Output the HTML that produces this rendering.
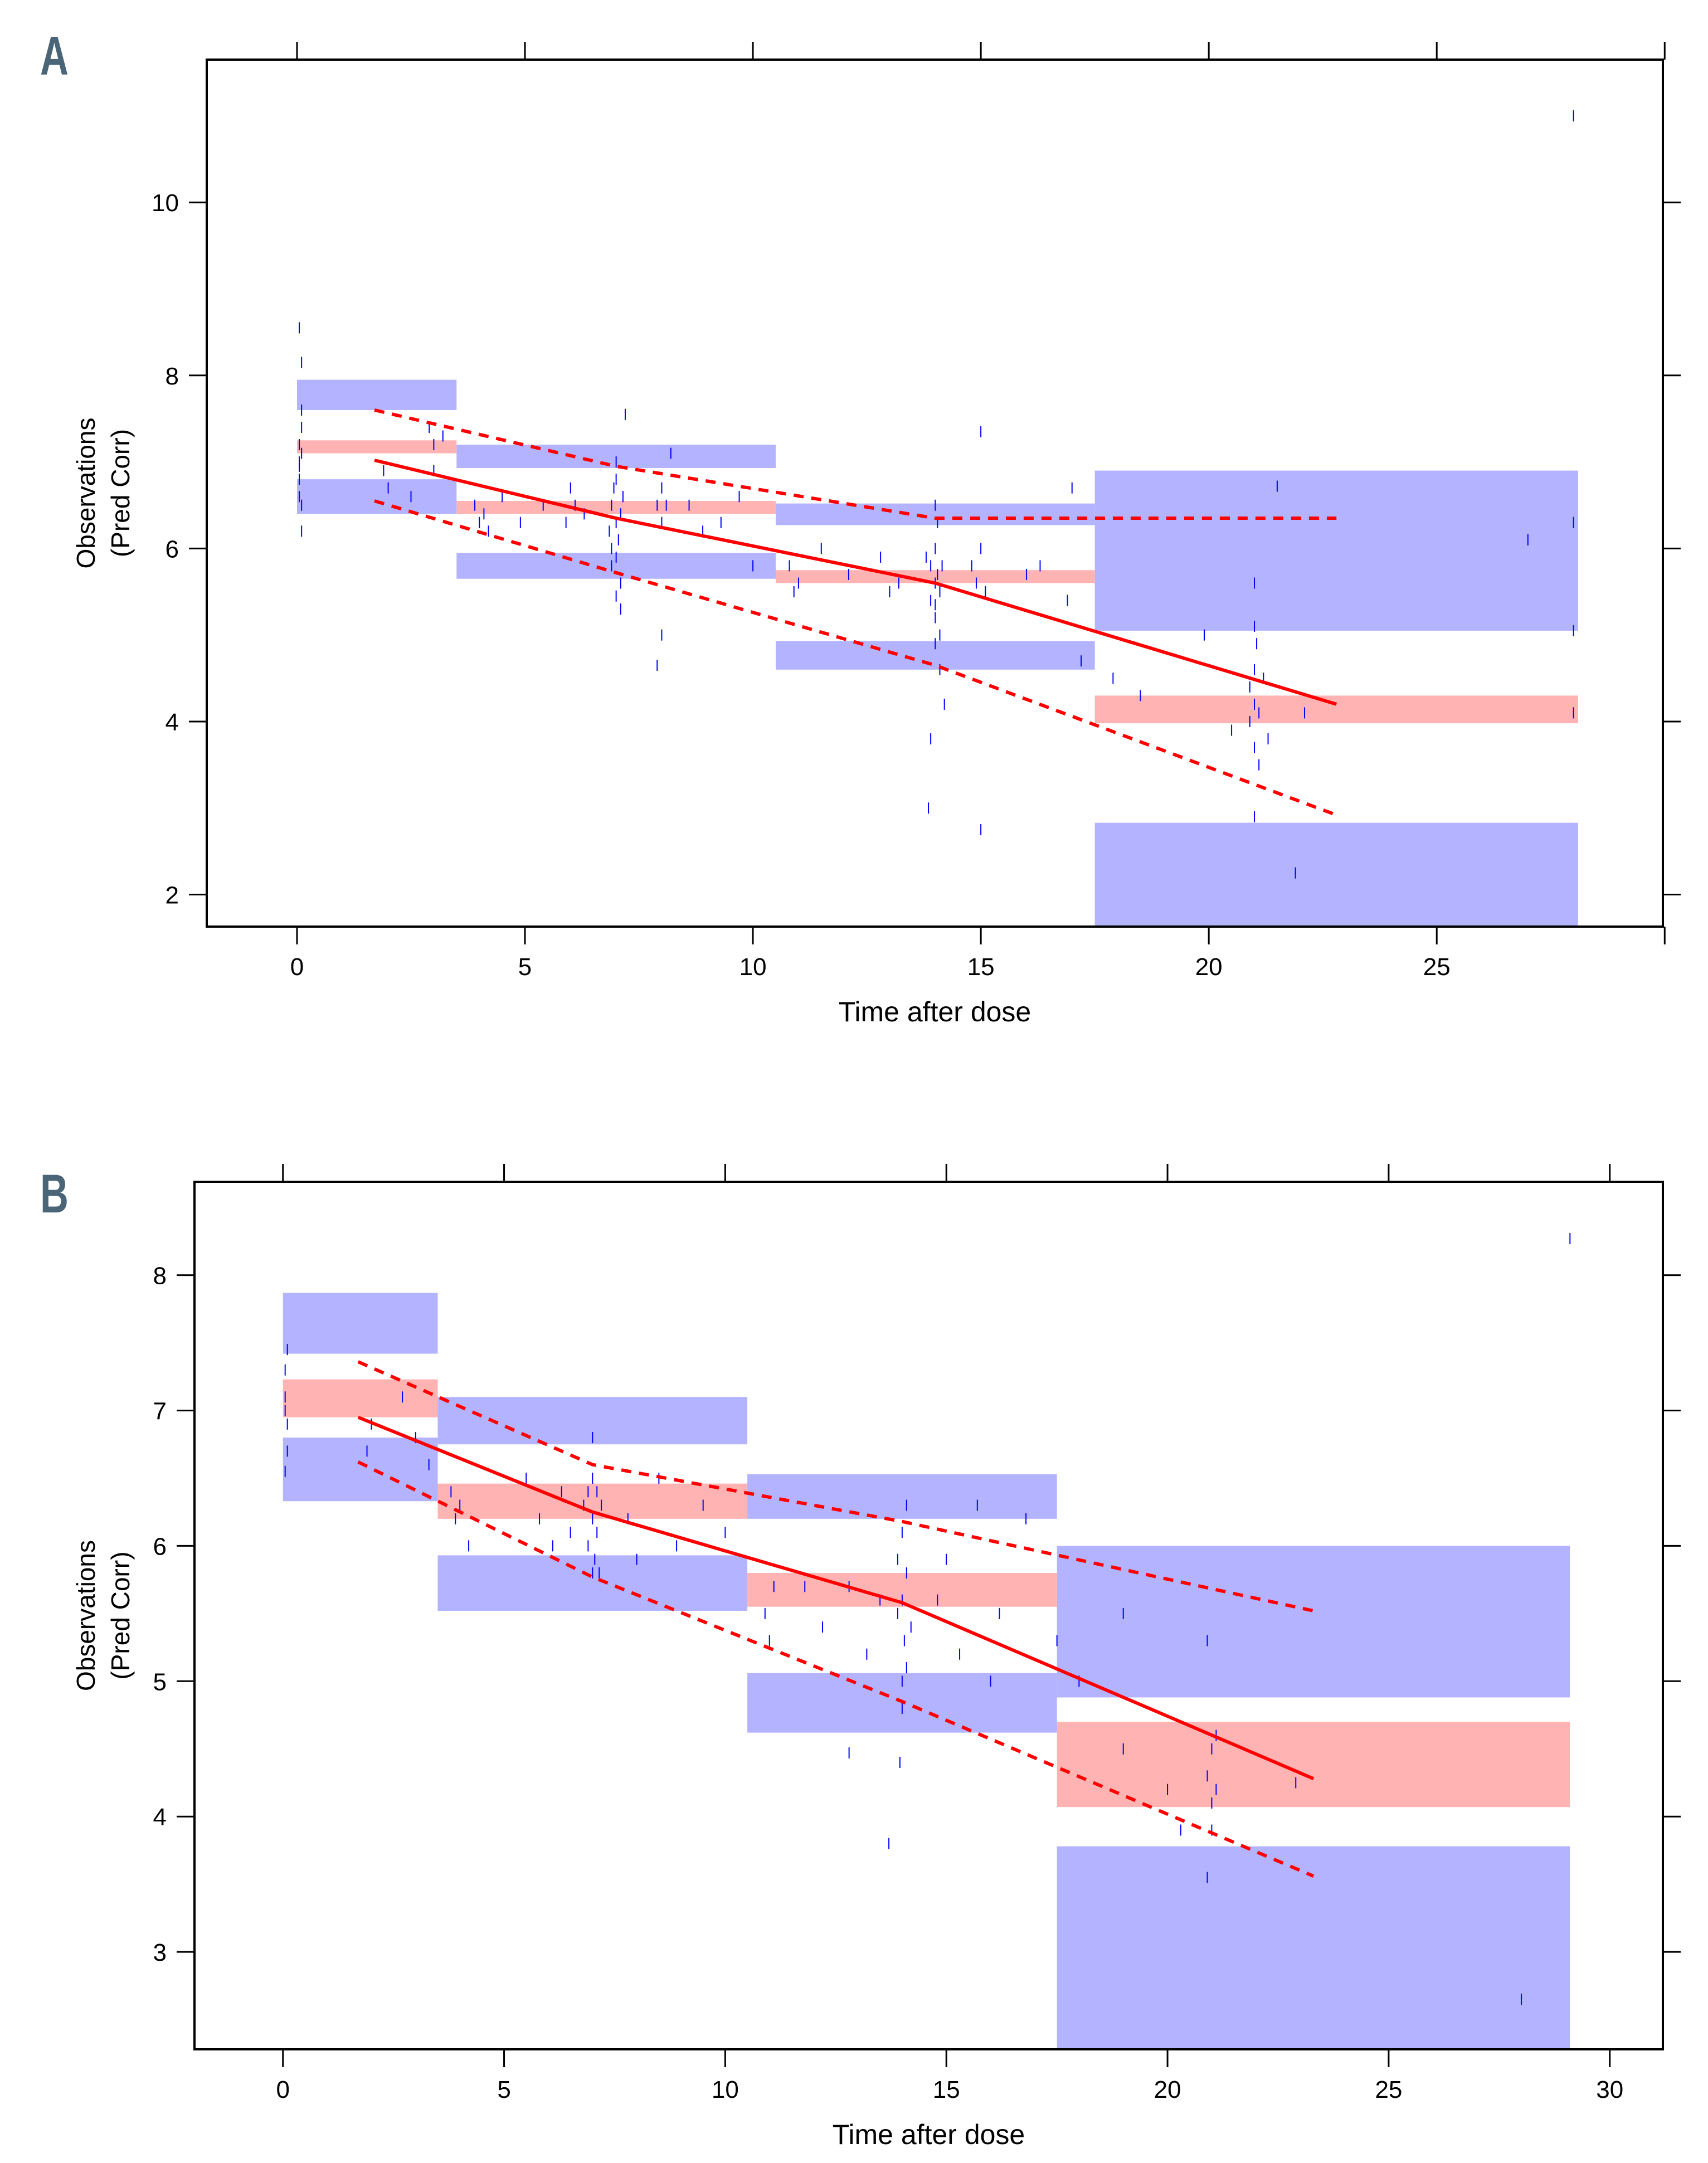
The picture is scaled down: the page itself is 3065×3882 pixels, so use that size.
<!DOCTYPE html>
<html><head><meta charset="utf-8"><style>
html,body{margin:0;padding:0;background:#fff;}
svg{display:block;}
text{font-family:"Liberation Sans Narrow","Liberation Sans",sans-serif;fill:#000;}
</style></head><body>
<svg id="fig" width="3065" height="3882" viewBox="0 0 3065 3882" xmlns="http://www.w3.org/2000/svg">
<text transform="translate(72,134) scale(0.72,1)" style="font-family:'Liberation Sans',sans-serif;font-weight:bold;font-size:98px;fill:#4a6478">A</text>
<text transform="translate(72,2176) scale(0.72,1)" style="font-family:'Liberation Sans',sans-serif;font-weight:bold;font-size:98px;fill:#4a6478">B</text>
</svg>
<script>
// ---------- Panel A data ----------
const binEdgesA = [0, 3.5, 10.5, 17.5, 28.1];
const upperLoA = [7.6, 6.93, 6.27, 5.05];
const upperHiA = [7.95, 7.2, 6.52, 6.9];
const midLoA = [7.1, 6.4, 5.6, 3.98];
const midHiA = [7.25, 6.55, 5.75, 4.3];
const lowerLoA = [6.4, 5.65, 4.6, 1.5];
const lowerHiA = [6.8, 5.95, 4.93, 2.83];
const lineTA = [1.7, 7, 14, 22.8];
const medianA = [7.02, 6.35, 5.6, 4.2];
const upperLineA = [7.6, 6.95, 6.35, 6.35];
const lowerLineA = [6.55, 5.72, 4.65, 2.92];
const obsTA = [0.05,0.05,0.05,0.1,0.05,0.1,0.05,0.1,0.1,0.1,0.05,0.1,1.9,2.0,2.5,2.9,3.0,3.2,3.0,3.9,4.0,4.1,4.2,4.5,4.9,5.4,5.9,6.0,6.1,6.3,6.85,6.9,6.9,6.95,7.0,7.0,7.0,7.05,7.1,7.1,7.15,6.9,7.0,7.1,7.2,7.0,7.9,8.0,8.0,8.1,8.0,7.9,8.2,8.6,8.9,9.3,9.7,10.0,10.8,10.9,11.0,11.5,12.1,12.8,13.0,13.2,13.8,13.9,13.9,14.0,14.0,14.0,14.0,14.05,14.05,14.1,14.1,14.15,14.0,14.1,13.9,14.2,13.85,14.0,14.8,14.9,15.0,15.1,15.0,15.0,16.0,16.3,16.9,17.0,17.2,17.9,18.5,19.9,20.5,20.9,20.9,21.0,21.0,21.0,21.0,21.05,21.1,21.1,21.0,21.0,21.2,21.3,21.9,21.5,22.1,27.0,28.0,28.0,28.0,28.0];
const obsYA = [7.2,7.0,6.8,7.4,6.6,7.6,8.55,8.15,6.2,7.1,6.95,6.5,6.9,6.7,6.6,7.4,7.2,7.3,6.9,6.5,6.3,6.4,6.2,6.6,6.3,6.5,6.3,6.7,6.5,6.4,6.2,6.5,6.0,6.7,6.3,5.9,6.8,6.1,6.4,5.6,6.6,5.8,7.0,5.3,7.55,5.45,6.5,6.3,6.7,6.5,5.0,4.65,7.1,6.5,6.2,6.3,6.6,5.8,5.8,5.5,5.6,6.0,5.7,5.9,5.5,5.6,5.9,5.4,5.8,5.6,5.2,6.0,4.9,5.7,6.3,5.5,5.0,5.8,6.5,4.6,3.8,4.2,3.0,5.35,5.8,5.6,6.0,5.5,7.35,2.75,5.7,5.8,5.4,6.7,4.7,4.5,4.3,5.0,3.9,4.4,4.0,4.6,3.7,5.1,4.2,4.9,4.1,3.5,5.6,2.9,4.5,3.8,2.25,6.72,4.1,6.1,6.3,5.05,4.1,11.0];
const xTicksA = [0, 5, 10, 15, 20, 25];
const xTopTicksA = [0, 5, 10, 15, 20, 25, 30];
const yTicksA = [2, 4, 6, 8, 10];

// ---------- Panel B data ----------
const binEdgesB = [0, 3.5, 10.5, 17.5, 29.1];
const upperLoB = [7.42, 6.75, 6.2, 4.88];
const upperHiB = [7.87, 7.1, 6.53, 6.0];
const midLoB = [6.95, 6.2, 5.55, 4.07];
const midHiB = [7.23, 6.46, 5.8, 4.7];
const lowerLoB = [6.33, 5.52, 4.62, 2.28];
const lowerHiB = [6.8, 5.93, 5.06, 3.78];
const lineTB = [1.7, 7, 14, 23.3];
const medianB = [6.95, 6.25, 5.58, 4.28];
const upperLineB = [7.36, 6.6, 6.18, 5.52];
const lowerLineB = [6.62, 5.77, 4.85, 3.56];
const obsTB = [0.05,0.05,0.1,0.1,0.05,0.1,0.05,1.9,2.0,2.7,3.0,3.3,3.8,3.9,4.0,4.2,5.5,5.8,6.1,6.3,6.5,6.8,6.9,6.9,7.0,7.0,7.0,7.05,7.1,7.1,7.15,7.0,7.2,7.8,8.0,8.5,8.9,9.5,10.0,10.9,11.0,11.1,11.8,12.2,12.8,13.2,13.5,13.7,12.8,13.9,13.9,14.0,14.0,14.0,14.0,14.05,14.1,14.1,14.1,13.95,14.2,14.8,15.0,15.3,15.7,16.2,16.8,17.5,16.0,18.0,19.0,19.0,20.0,20.3,20.9,20.9,21.0,21.0,21.1,21.1,20.9,21.0,22.9,28.0,29.1];
const obsYB = [7.3,7.1,6.9,6.7,6.55,7.45,7.0,6.7,6.9,7.1,6.8,6.6,6.4,6.2,6.3,6.0,6.5,6.2,6.0,6.4,6.1,6.3,6.0,6.4,5.8,6.2,6.5,5.9,6.1,6.4,5.8,6.8,6.3,6.2,5.9,6.5,6.0,6.3,6.1,5.5,5.3,5.7,5.7,5.4,5.7,5.2,5.6,3.8,4.47,5.5,5.9,5.0,5.6,6.1,4.8,5.3,5.8,6.3,5.1,4.4,5.4,5.6,5.9,5.2,6.3,5.5,6.2,5.3,5.0,5.0,4.5,5.5,4.2,3.9,5.3,4.3,4.5,4.1,4.6,4.2,3.55,3.9,4.25,2.65,8.27];
const xTicksB = [0, 5, 10, 15, 20, 25, 30];
const xTopTicksB = [0, 5, 10, 15, 20, 25, 30];
const yTicksB = [3, 4, 5, 6, 7, 8];

const NS = "http://www.w3.org/2000/svg";
const svg = document.getElementById("fig");
function mk(tag, attrs, parent) {
  const el = document.createElementNS(NS, tag);
  for (const k in attrs) el.setAttribute(k, attrs[k]);
  (parent || svg).appendChild(el);
  return el;
}

function panel(p) {
  const g = mk("g", {});
  
  
  const sx = v => p.L + (v - p.x0) / (p.x1 - p.x0) * (p.R - p.L);
  const sy = v => p.B - (v - p.y0) / (p.y1 - p.y0) * (p.B - p.T);
  const clip = mk("clipPath", {id: p.id + "clip"}, g);
  mk("rect", {x: p.L, y: p.T, width: p.R - p.L, height: p.B - p.T}, clip);
  const plot = mk("g", {"clip-path": "url(#" + p.id + "clip)"}, g);
  const bands = [[p.upLo, p.upHi, "#b3b3ff", "upper-pi-box"], [p.midLo, p.midHi, "#ffb3b3", "median-pi-box"], [p.loLo, p.loHi, "#b3b3ff", "lower-pi-box"]];
  bands.forEach(b => {
    for (let i = 0; i < p.edges.length - 1; i++) {
      const r = mk("rect", {x: sx(p.edges[i]), y: sy(b[1][i]), width: sx(p.edges[i+1]) - sx(p.edges[i]), height: sy(b[0][i]) - sy(b[1][i]), fill: b[2]}, plot);
      
      
    }
  });
  for (let i = 0; i < p.ot.length; i++) {
    const x = sx(p.ot[i]), y = sy(p.oy[i]);
    const l = mk("line", {x1: x, x2: x, y1: y - 10, y2: y + 10, stroke: "#0000ff", "stroke-width": 2}, plot);
    
    
  }
  const lines = [[p.med, "", "median-line"], [p.upL, "18,14", "upper-percentile-line"], [p.loL, "18,14", "lower-percentile-line"]];
  lines.forEach(ln => {
    const pts = p.lt.map((t, i) => sx(t) + "," + sy(ln[0][i])).join(" ");
    const a = {points: pts, fill: "none", stroke: "#ff0000", "stroke-width": 6};
    if (ln[1]) a["stroke-dasharray"] = ln[1];
    const pl = mk("polyline", a, plot);
    
    
  });
  const fr = mk("rect", {x: p.L, y: p.T, width: p.R - p.L, height: p.B - p.T, fill: "none", stroke: "#000", "stroke-width": 4}, g);
  
  
  const tk = 32;
  p.xt.forEach(v => {
    const x = sx(v);
    const t = mk("line", {x1: x, x2: x, y1: p.B, y2: p.B + tk, stroke: "#000", "stroke-width": 3}, g);
    
    
    const tx = mk("text", {x: x, y: p.B + 87, "text-anchor": "middle", "font-size": 44}, g);
    tx.textContent = v;
    
    
  });
  p.xb.forEach(v => {
    const x = sx(v);
    if (!p.xt.includes(v)) {
      const t = mk("line", {x1: x, x2: x, y1: p.B, y2: p.B + tk, stroke: "#000", "stroke-width": 3}, g);
      
      
    }
    const t2 = mk("line", {x1: x, x2: x, y1: p.T, y2: p.T - tk, stroke: "#000", "stroke-width": 3}, g);
    
    
  });
  p.yt.forEach(v => {
    const y = sy(v);
    const t = mk("line", {x1: p.L - tk, x2: p.L, y1: y, y2: y, stroke: "#000", "stroke-width": 3}, g);
    
    
    const t2 = mk("line", {x1: p.R, x2: p.R + tk, y1: y, y2: y, stroke: "#000", "stroke-width": 3}, g);
    
    
    const tx = mk("text", {x: p.L - 50, y: y + 16, "text-anchor": "end", "font-size": 44}, g);
    tx.textContent = v;
    
    
  });
  const xt = mk("text", {x: (p.L + p.R) / 2, y: p.B + 170, "text-anchor": "middle", "font-size": 50, style: "font-family:'Liberation Sans',sans-serif"}, g);
  xt.textContent = "Time after dose";
  
  
  const cy = (p.T + p.B) / 2;
  const y1 = mk("text", {x: 0, y: 0, "text-anchor": "middle", "font-size": 46, transform: "translate(170," + cy + ") rotate(-90)", style: "font-family:'Liberation Sans',sans-serif"}, g);
  y1.textContent = "Observations";
  
  
  const y2 = mk("text", {x: 0, y: 0, "text-anchor": "middle", "font-size": 46, transform: "translate(232," + cy + ") rotate(-90)", style: "font-family:'Liberation Sans',sans-serif"}, g);
  y2.textContent = "(Pred Corr)";
  
  
}

panel({id: "panel-a", L: 371, R: 2984, T: 107, B: 1663, x0: -1.98, x1: 29.96, y0: 1.63, y1: 11.65,
  edges: binEdgesA, upLo: upperLoA, upHi: upperHiA, midLo: midLoA, midHi: midHiA, loLo: lowerLoA, loHi: lowerHiA,
  lt: lineTA, med: medianA, upL: upperLineA, loL: lowerLineA, ot: obsTA, oy: obsYA, xt: xTicksA, xb: xTopTicksA, yt: yTicksA});
panel({id: "panel-b", L: 349, R: 2984, T: 2121, B: 3678, x0: -2.0, x1: 31.2, y0: 2.28, y1: 8.69,
  edges: binEdgesB, upLo: upperLoB, upHi: upperHiB, midLo: midLoB, midHi: midHiB, loLo: lowerLoB, loHi: lowerHiB,
  lt: lineTB, med: medianB, upL: upperLineB, loL: lowerLineB, ot: obsTB, oy: obsYB, xt: xTicksB, xb: xTopTicksB, yt: yTicksB});
</script>
</body></html>
